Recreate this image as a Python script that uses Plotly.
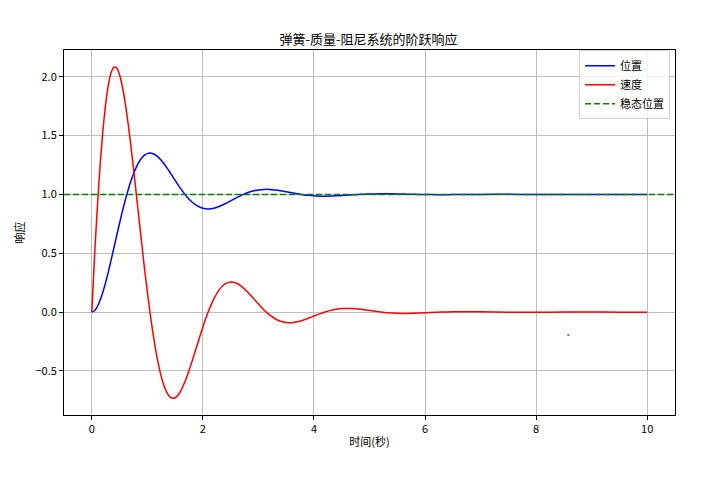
import plotly.graph_objects as go

# time samples (s)
t = [0.0, 0.05, 0.1, 0.15, 0.2, 0.25, 0.3, 0.35, 0.4, 0.45,
     0.5, 0.55, 0.6, 0.65, 0.7, 0.75, 0.8, 0.85, 0.9, 0.95,
     1.0, 1.05, 1.1, 1.15, 1.2, 1.25, 1.3, 1.35, 1.4, 1.45,
     1.5, 1.55, 1.6, 1.7, 1.8, 1.9,
     2.0, 2.1, 2.2, 2.3, 2.4, 2.5, 2.6, 2.7, 2.8, 2.9,
     3.0, 3.1, 3.2, 3.3, 3.4, 3.5, 3.6, 3.7, 3.8, 3.9,
     4.0, 4.1, 4.2, 4.3, 4.4, 4.5, 4.6, 4.7, 4.8, 4.9,
     5.0, 5.2, 5.4, 5.6, 5.8, 6.0, 6.2, 6.4, 6.6, 6.8,
     7.0, 7.5, 8.0, 8.5, 9.0, 9.5, 10.0]

position = [0.0000, 0.0121, 0.0464, 0.1002, 0.1702, 0.2532, 0.3461, 0.4456, 0.5488, 0.6530,
            0.7554, 0.8539, 0.9465, 1.0316, 1.1078, 1.1742, 1.2302, 1.2759, 1.3096, 1.3339,
            1.3469, 1.3509, 1.3462, 1.3337, 1.3145, 1.2897, 1.2603, 1.2276, 1.1925, 1.1563,
            1.1197, 1.0838, 1.0494, 0.9873, 0.9377, 0.9026,
            0.8827, 0.8769, 0.8832, 0.8989, 0.9208, 0.9459, 0.9713, 0.9946, 1.0143, 1.0290,
            1.0385, 1.0428, 1.0425, 1.0384, 1.0316, 1.0232, 1.0142, 1.0056, 0.9981, 0.9920,
            0.9878, 0.9855, 0.9848, 0.9857, 0.9877, 0.9904, 0.9935, 0.9966, 0.9995, 1.0019,
            1.0037, 1.0053, 1.0047, 1.0028, 1.0006, 0.9990, 0.9982, 0.9982, 0.9988, 0.9996,
            1.0002, 1.0006, 1.0000, 0.9998, 1.0000, 1.0000, 1.0000]

velocity = [0.0000, 0.4738, 0.8913, 1.2479, 1.5410, 1.7695, 1.9343, 2.0375, 2.0826, 2.0738,
            2.0167, 1.9171, 1.7815, 1.6165, 1.4289, 1.2251, 1.0117, 0.7927, 0.5792, 0.3676,
            0.1731, -0.0098, -0.1750, -0.3204, -0.4443, -0.5459, -0.6248, -0.6814, -0.7164, -0.7311,
            -0.7271, -0.7061, -0.6704, -0.5638, -0.4258, -0.2746,
            -0.1260, 0.0069, 0.1151, 0.1933, 0.2400, 0.2567, 0.2472, 0.2173, 0.1732, 0.1217,
            0.0684, 0.0187, -0.0237, -0.0563, -0.0779, -0.0885, -0.0893, -0.0820, -0.0686, -0.0514,
            -0.0328, -0.0145, 0.0017, 0.0148, 0.0242, 0.0298, 0.0316, 0.0303, 0.0265, 0.0210,
            0.0146, 0.0020, -0.0071, -0.0109, -0.0100, -0.0062, -0.0017, 0.0019, 0.0037, 0.0037,
            0.0025, -0.0009, -0.0010, 0.0002, 0.0004, 0.0000, 0.0000]

steady_value = 1.0
x_range = [-0.5, 10.5]
y_range = [-0.874, 2.227]
stray_x = [8.58]
stray_y = [-0.195]

title_text = "弹簧-质量-阻尼系统的阶跃响应"
x_label = "时间(秒)"
y_label = "响应"
x_ticks = [0, 2, 4, 6, 8, 10]
y_ticks = [-0.5, 0.0, 0.5, 1.0, 1.5, 2.0]

FONT = "Noto Sans CJK SC, DejaVu Sans, sans-serif"

fig = go.Figure()
fig.add_trace(go.Scatter(x=t, y=position, mode="lines", name="位置",
                         line=dict(color="blue", width=1.5, shape="spline", smoothing=0.5)))
fig.add_trace(go.Scatter(x=t, y=velocity, mode="lines", name="速度",
                         line=dict(color="red", width=1.5, shape="spline", smoothing=0.5)))
fig.add_trace(go.Scatter(x=x_range, y=[steady_value, steady_value], mode="lines", name="稳态位置",
                         line=dict(color="green", width=1.5, dash="6px,3px")))
fig.add_trace(go.Scatter(x=stray_x, y=stray_y, mode="markers", showlegend=False,
                         marker=dict(color="#e04040", size=2, symbol="square", line=dict(width=0)),
                         hoverinfo="skip"))

axis_common = dict(showline=True, linecolor="black", linewidth=1, mirror=True,
                   ticks="outside", ticklen=4, tickcolor="black", tickwidth=1,
                   showgrid=True, gridcolor="#bdbdbd", gridwidth=0.8, zeroline=False,
                   tickfont=dict(family=FONT, size=11, color="black"))

# the page body adds an 8px offset, so margins are measured from that
fig.update_layout(
    width=720, height=484,
    margin=dict(l=54, r=53, t=42, b=77),
    paper_bgcolor="white", plot_bgcolor="white",
    title=dict(text=title_text, x=(54 + 613 / 2) / 720, xanchor="center", y=1 - 31 / 484, yanchor="middle",
               font=dict(family=FONT, size=13, color="black")),
    xaxis=dict(range=x_range, tickvals=x_ticks, ticktext=[str(v) for v in x_ticks],
               title=dict(text=x_label, font=dict(family=FONT, size=11, color="black"), standoff=3),
               **axis_common),
    yaxis=dict(range=y_range, tickvals=y_ticks, tickformat=".1f",
               title=dict(text=y_label, font=dict(family=FONT, size=11, color="black"), standoff=8),
               **axis_common),
    legend=dict(x=0.992, y=0.9995, xanchor="right", yanchor="top",
                bgcolor="rgba(255,255,255,0.8)", bordercolor="#d0d0d0", borderwidth=1,
                font=dict(family=FONT, size=11, color="black"), tracegroupgap=0),
    showlegend=True,
)

fig.write_html("out.html")
